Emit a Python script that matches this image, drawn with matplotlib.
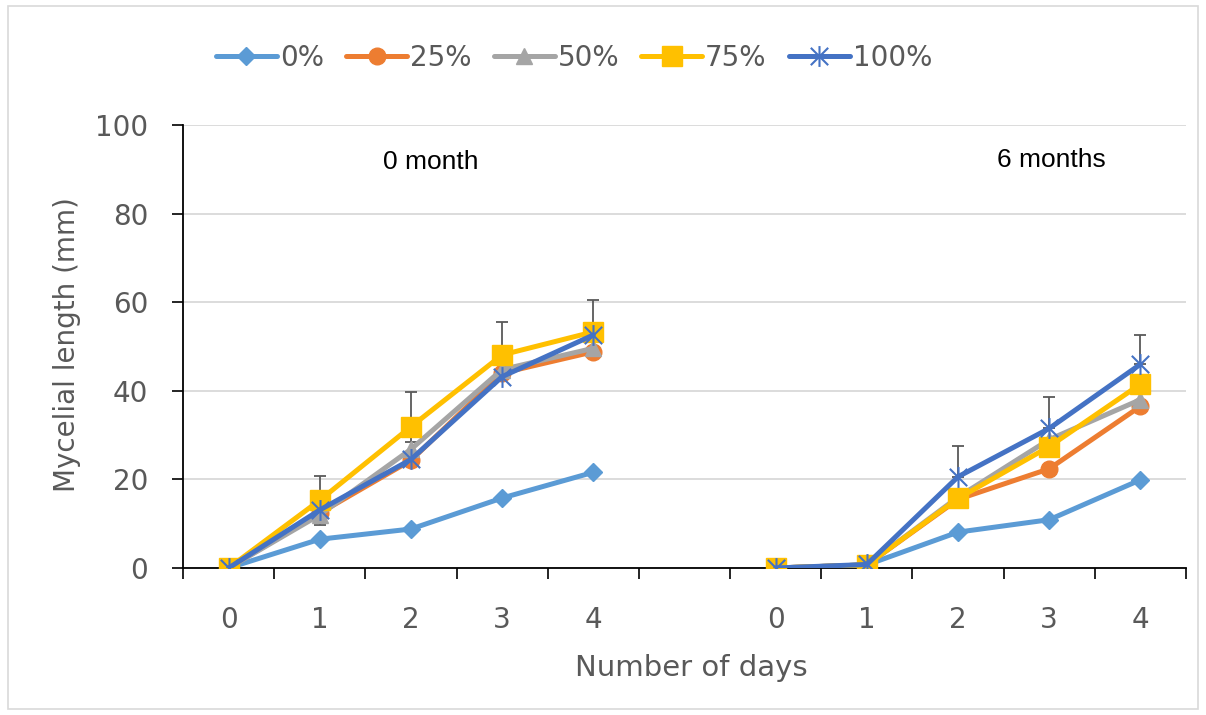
import numpy as np
import matplotlib
matplotlib.use("Agg")
import matplotlib.pyplot as plt
from matplotlib.path import Path
from matplotlib.patches import Rectangle

# Categories: two blocks of days (0 month / 6 months) separated by an empty slot
day_labels = ["0", "1", "2", "3", "4", "", "0", "1", "2", "3", "4"]
series_names = ["0%", "25%", "50%", "75%", "100%"]

nan = np.nan
s0 = [0, 6.5, 8.8, 15.8, 21.6, nan, 0, 0.7, 8.1, 10.9, 19.9]
s25 = [0, 12.4, 24.3, 44.0, 48.8, nan, 0, 0.7, 15.5, 22.4, 36.5]
s50 = [0, 12.0, 26.8, 44.8, 49.6, nan, 0, 0.7, 16.0, 29.0, 38.0]
s75 = [0, 15.3, 31.9, 48.1, 53.3, nan, 0, 0.7, 15.7, 27.4, 41.5]
s100 = [0, 13.1, 24.5, 43.2, 52.6, nan, 0, 0.8, 20.6, 31.5, 46.0]

# Error bars: 75% series for the 0 month block, 100% series for the 6 months block
err_plus = [0, 5.5, 7.8, 7.5, 7.3, nan, 0, 0, 7.0, 7.2, 6.7]
err_minus = [0, 5.6, 3.4, 0, 0, nan, 0, 0, 0, 0, 0]
err_base = s75[:5] + [nan] + s100[6:]

colors = ["#5B9BD5", "#ED7D31", "#A5A5A5", "#FFC000", "#4472C4"]

star = Path([(-0.5, -0.5), (0.5, 0.5), (-0.5, 0.5), (0.5, -0.5), (0, -0.6), (0, 0.6)],
            [Path.MOVETO, Path.LINETO, Path.MOVETO, Path.LINETO, Path.MOVETO, Path.LINETO])

markers = ["D", "o", "^", "s", star]
msizes = [9, 12, 12, 14, 15]

W, H = 1206, 715
fig = plt.figure(figsize=(W / 100, H / 100), dpi=100)
fig.patches.append(Rectangle((8 / W, 6 / H), (W - 16) / W, (H - 12) / H,
                             transform=fig.transFigure, fill=False,
                             edgecolor="#D9D9D9", linewidth=1.2))

ax = fig.add_axes([183 / W, (H - 568) / H, (1186 - 183) / W, (568 - 125) / H])
x = np.arange(len(day_labels))

# error bars first so the series lines sit on top
ax.errorbar(x, err_base, yerr=[err_minus, err_plus], fmt="none",
            ecolor="#595959", elinewidth=1.3, capsize=4.3, capthick=1.3, zorder=2)

for i, (vals, name) in enumerate(zip([s0, s25, s50, s75, s100], series_names)):
    kw = dict(color=colors[i], linewidth=3.6, marker=markers[i], markersize=msizes[i],
              label=name, zorder=3 + i, solid_capstyle="round")
    if i == 4:
        kw.update(markerfacecolor="none", markeredgecolor=colors[i], markeredgewidth=1.5)
    else:
        kw.update(markerfacecolor=colors[i], markeredgecolor=colors[i], markeredgewidth=1)
    ax.plot(x, vals, **kw)

ax.set_xlim(-0.5, len(day_labels) - 0.5)
ax.set_ylim(0, 100)
ax.set_yticks(np.arange(0, 101, 20))
ax.set_xticks(np.arange(-0.5, len(day_labels)), labels=[])
ax.set_xticks(x, labels=day_labels, minor=True)

tick_color = "#595959"
ax.tick_params(axis="y", direction="out", length=8, width=1.2, color="black",
               labelsize=20, labelcolor=tick_color, pad=17)
ax.tick_params(axis="x", which="major", direction="out", length=8, width=1.2, color="black")
ax.tick_params(axis="x", which="minor", length=0, labelsize=20, labelcolor=tick_color, pad=27)

ax.grid(axis="y", color="#D9D9D9", linewidth=1.3, zorder=0)
ax.set_axisbelow(True)
for side in ("top", "right"):
    ax.spines[side].set_visible(False)
for side in ("left", "bottom"):
    ax.spines[side].set_color("black")
    ax.spines[side].set_linewidth(1.3)
    ax.spines[side].set_zorder(2.5)

ax.text(0.247, 0.916, "0 month", transform=ax.transAxes, ha="center", va="center",
        fontsize=19, family="Liberation Sans", color="black")
ax.text(0.866, 0.921, "6 months", transform=ax.transAxes, ha="center", va="center",
        fontsize=19, family="Liberation Sans", color="black")

fig.text(691 / W, 1 - 668 / H, "Number of days", ha="center", va="center",
         fontsize=21, color=tick_color)
fig.text(67 / W, 1 - 345 / H, "Mycelial length (mm)", ha="center", va="center",
         rotation=90, fontsize=20, color=tick_color)

fig.legend(loc="center", bbox_to_anchor=(574 / W, 1 - 58 / H), ncol=5, frameon=False,
           fontsize=20, handlelength=2.2, handletextpad=0.1, columnspacing=0.8,
           labelcolor=tick_color, borderaxespad=0)

fig.savefig("out.png", dpi=100)
